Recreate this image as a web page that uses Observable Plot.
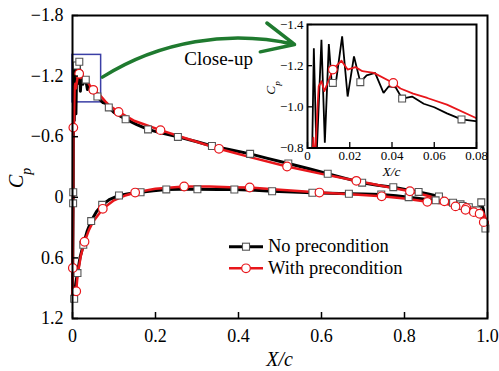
<!DOCTYPE html>
<html><head><meta charset="utf-8">
<script src="https://cdn.jsdelivr.net/npm/d3@7"></script>
<script src="https://cdn.jsdelivr.net/npm/@observablehq/plot@0.6"></script>
<style>
body{margin:0;background:#fff;}
#wrap{position:relative;width:499px;height:371px;font-family:"Liberation Serif","Times New Roman",serif;}
#main{position:absolute;left:0;top:0;}
#inset{position:absolute;left:250px;top:0;}
#legend{position:absolute;left:222px;top:230px;}
</style></head><body>
<div id="wrap"><div id="main"></div><div id="inset"></div><svg id="legend" width="210" height="52"></svg></div>
<script>
// ---------- data ----------
const seriesNames = ["No precondition", "With precondition"];
const seriesColors = ["#000000", "#e8161b"];

// No precondition (black), upper surface (suction side)
const noPreUpperX  = [0, 0.0008, 0.0015, 0.0018, 0.0022, 0.003, 0.0043, 0.0066, 0.0082, 0.0101, 0.0114, 0.0136, 0.0164, 0.019, 0.022, 0.025, 0.028, 0.032, 0.036, 0.0385, 0.0417, 0.0448, 0.0495, 0.055, 0.06, 0.066, 0.0729, 0.0795, 0.0875, 0.1, 0.128, 0.155, 0.182, 0.21, 0.254, 0.3, 0.336, 0.38, 0.428, 0.47, 0.52, 0.57, 0.615, 0.66, 0.698, 0.735, 0.773, 0.834, 0.86, 0.883, 0.917, 0.935, 0.955, 0.967, 0.98, 0.985, 0.99, 0.995, 1.0];
const noPreUpperCp = [1.02, 0.5, 0.06, -0.05, -0.78, -1.285, -0.76, -1.326, -0.826, -1.305, -1.124, -1.13, -1.342, -1.05, -1.245, -1.12, -1.153, -1.165, -1.068, -1.10, -1.095, -1.04, -1.05, -1.015, -0.998, -0.968, -0.939, -0.931, -0.89, -0.84, -0.773, -0.72, -0.672, -0.64, -0.598, -0.55, -0.508, -0.47, -0.43, -0.385, -0.335, -0.282, -0.233, -0.185, -0.145, -0.12, -0.10, -0.053, -0.03, -0.008, 0.054, 0.07, 0.098, 0.13, 0.12, 0.05, 0.12, 0.31, 0.25];
// No precondition, lower surface
const noPreLowerX  = [0, 0.004, 0.008, 0.012, 0.018, 0.026, 0.035, 0.045, 0.058, 0.0715, 0.09, 0.112, 0.135, 0.164, 0.195, 0.226, 0.26, 0.301, 0.35, 0.39, 0.44, 0.481, 0.53, 0.578, 0.62, 0.666, 0.70, 0.744, 0.78, 0.81, 0.85, 0.875, 0.9, 0.92, 0.94, 0.96, 0.975, 0.99, 1.0];
const noPreLowerCp = [1.02, 1.005, 0.85, 0.75, 0.6, 0.47, 0.34, 0.235, 0.14, 0.075, 0.02, -0.018, -0.035, -0.05, -0.065, -0.078, -0.08, -0.079, -0.078, -0.077, -0.07, -0.06, -0.052, -0.045, -0.04, -0.035, -0.032, -0.028, -0.015, -0.001, 0.02, 0.03, 0.048, 0.065, 0.085, 0.105, 0.13, 0.2, 0.3];

// With precondition (red), upper surface
const withPreUpperX  = [0, 0.0008, 0.0015, 0.002, 0.0028, 0.0035, 0.0045, 0.0053, 0.0066, 0.008, 0.012, 0.0161, 0.019, 0.0227, 0.026, 0.0314, 0.0406, 0.044, 0.05, 0.0567, 0.066, 0.0795, 0.09, 0.111, 0.15, 0.212, 0.28, 0.353, 0.43, 0.517, 0.6, 0.684, 0.75, 0.813, 0.86, 0.896, 0.923, 0.949, 0.965, 0.98, 0.99, 1.0];
const withPreUpperCp = [1.0, 0.70, 0.0, -0.69, -0.85, -0.72, -0.95, -1.10, -1.124, -1.076, -1.181, -1.224, -1.181, -1.193, -1.173, -1.165, -1.116, -1.089, -1.064, -1.043, -1.011, -0.947, -0.905, -0.845, -0.755, -0.665, -0.575, -0.48, -0.395, -0.305, -0.232, -0.163, -0.11, -0.06, -0.01, 0.04, 0.075, 0.105, 0.12, 0.135, 0.16, 0.25];
// With precondition, lower surface
const withPreLowerX  = [0, 0.004, 0.009, 0.012, 0.02, 0.029, 0.04, 0.05, 0.073, 0.1, 0.125, 0.151, 0.2, 0.269, 0.33, 0.38, 0.427, 0.5, 0.595, 0.67, 0.745, 0.8, 0.855, 0.9, 0.923, 0.947, 0.967, 0.981, 0.991, 1.0];
const withPreLowerCp = [1.0, 0.97, 0.93, 0.78, 0.58, 0.44, 0.32, 0.24, 0.114, 0.03, -0.015, -0.047, -0.085, -0.107, -0.106, -0.10, -0.097, -0.075, -0.047, -0.03, -0.01, 0.012, 0.045, 0.065, 0.09, 0.124, 0.147, 0.163, 0.246, 0.25];

// Marker positions, main chart
const noPreMarkX  = [0.0018, 0.0015, 0.0101, 0.0164, 0.032, 0.06, 0.0875, 0.128, 0.182, 0.254, 0.336, 0.428, 0.52, 0.615, 0.698, 0.773, 0.834, 0.883, 0.917, 0.935, 0.955, 0.967, 0.985, 0.995,
                     0.004, 0.012, 0.026, 0.045, 0.0715, 0.112, 0.164, 0.226, 0.301, 0.39, 0.481, 0.578, 0.666, 0.744, 0.81, 0.875, 0.94, 0.975];
const noPreMarkCp = [-0.05, 0.06, -1.305, -1.342, -1.165, -0.998, -0.89, -0.773, -0.672, -0.598, -0.508, -0.43, -0.335, -0.233, -0.145, -0.10, -0.053, -0.008, 0.054, 0.07, 0.098, 0.13, 0.05, 0.31,
                     1.005, 0.75, 0.47, 0.235, 0.075, -0.018, -0.05, -0.078, -0.079, -0.077, -0.06, -0.045, -0.035, -0.028, -0.001, 0.03, 0.085, 0.13];
const withPreMarkX  = [0.0008, 0.002, 0.0161, 0.05, 0.111, 0.212, 0.353, 0.517, 0.684, 0.813, 0.896, 0.949,
                       0.009, 0.029, 0.073, 0.151, 0.269, 0.427, 0.595, 0.745, 0.855, 0.923, 0.947, 0.967, 0.981, 0.991];
const withPreMarkCp = [0.70, -0.69, -1.224, -1.064, -0.845, -0.665, -0.48, -0.305, -0.163, -0.06, 0.04, 0.105,
                       0.93, 0.44, 0.114, -0.047, -0.107, -0.097, -0.047, -0.01, 0.045, 0.09, 0.124, 0.147, 0.163, 0.246];

// Marker positions, close-up inset
const insetNoPreMarkX  = [0.012, 0.025, 0.0448, 0.0729];
const insetNoPreMarkCp = [-1.116, -1.12, -1.04, -0.939];
const insetWithPreMarkX  = [0.012, 0.0406];
const insetWithPreMarkCp = [-1.181, -1.116];

// Axes
const xTicks = [0, 0.2, 0.4, 0.6, 0.8, 1.0];
const xTickLabels = ["0", "0.2", "0.4", "0.6", "0.8", "1.0"];
const yTicks = [-1.8, -1.2, -0.6, 0, 0.6, 1.2];
const yTickLabels = ["\u22121.8", "\u22121.2", "\u22120.6", "0", "0.6", "1.2"];
const insetXTicks = [0, 0.02, 0.04, 0.06, 0.08];
const insetXTickLabels = ["0", "0.02", "0.04", "0.06", "0.08"];
const insetYTicks = [-1.4, -1.2, -1.0, -0.8];
const insetYTickLabels = ["\u22121.4", "\u22121.2", "\u22121.0", "\u22120.8"];

// Close-up annotation (data units)
const closeUpBoxX = [0, 0.069];
const closeUpBoxCp = [-1.41, -0.94];
const closeUpArrowFrom = [0.072, -1.19];
const closeUpArrowTo = [0.535, -1.513];
const closeUpLabel = ["Close-up"];
const closeUpLabelAt = [0.352, -1.374];

// ---------- build ----------
const pts = (xs, cps, s) => xs.map((x, i) => ({x, cp: cps[i], s}));
const noPre = [...pts(noPreUpperX, noPreUpperCp, "u"), ...pts(noPreLowerX, noPreLowerCp, "l")];
const withPre = [...pts(withPreUpperX, withPreUpperCp, "u"), ...pts(withPreLowerX, withPreLowerCp, "l")];
const noPreMarks = pts(noPreMarkX, noPreMarkCp);
const withPreMarks = pts(withPreMarkX, withPreMarkCp);
const insetNoPreMarks = pts(insetNoPreMarkX, insetNoPreMarkCp);
const insetWithPreMarks = pts(insetWithPreMarkX, insetWithPreMarkCp);
const fmt = (ticks, labels) => d => labels[ticks.findIndex(t => Math.abs(t - d) < 1e-9)];

const FONT = "'Liberation Serif', 'Times New Roman', serif";
const BLACK = seriesColors[0], RED = seriesColors[1];

const main = Plot.plot({
  width: 499, height: 371,
  marginLeft: 72, marginRight: 12, marginTop: 15, marginBottom: 53,
  x: {domain: [0, 1]},
  y: {domain: [1.2, -1.8]},
  style: {fontFamily: FONT, fontSize: "18px", color: "black", background: "white"},
  marks: [
    Plot.rect([{x1: closeUpBoxX[0], x2: closeUpBoxX[1], y1: closeUpBoxCp[0], y2: closeUpBoxCp[1]}],
      {x1: "x1", x2: "x2", y1: "y1", y2: "y2", fill: "none", stroke: "#3b3fa6", strokeWidth: 1.5}),
    Plot.line(noPre, {x: "x", y: "cp", z: "s", stroke: BLACK, strokeWidth: 3, strokeLinejoin: "round"}),
    Plot.line(withPre, {x: "x", y: "cp", z: "s", stroke: RED, strokeWidth: 2.5, strokeLinejoin: "round"}),
    Plot.dot(noPreMarks, {x: "x", y: "cp", symbol: "square", r: 3.9, fill: "white", stroke: "#555", strokeWidth: 1.1}),
    Plot.dot(withPreMarks, {x: "x", y: "cp", r: 4.3, fill: "white", stroke: RED, strokeWidth: 1.2}),
    Plot.arrow([{x1: closeUpArrowFrom[0], y1: closeUpArrowFrom[1], x2: closeUpArrowTo[0], y2: closeUpArrowTo[1]}],
      {x1: "x1", y1: "y1", x2: "x2", y2: "y2", bend: true, stroke: "#1f7a2f", strokeWidth: 3.5, headLength: 15, headAngle: 50}),
    Plot.text(closeUpLabel, {x: () => closeUpLabelAt[0], y: () => closeUpLabelAt[1], text: d => d, fontSize: 19, fill: "black", fontFamily: FONT}),
    Plot.tickY(yTicks, {y: d => d, insetRight: 409, stroke: "black", strokeWidth: 1.5}),
    Plot.tickX(xTicks, {x: d => d, insetTop: 297, stroke: "black", strokeWidth: 1.5}),
    Plot.axisX({ticks: xTicks, tickFormat: fmt(xTicks, xTickLabels), tickSize: 0, tickPadding: 11, label: null, fontFamily: FONT}),
    Plot.axisY({ticks: yTicks, tickFormat: fmt(yTicks, yTickLabels), tickSize: 0, tickPadding: 9, label: null, fontFamily: FONT}),
    Plot.frame({stroke: "black", strokeWidth: 2})
  ]
});
document.getElementById("main").appendChild(main);

const inset = Plot.plot({
  width: 240, height: 185,
  marginLeft: 57, marginRight: 14, marginTop: 24, marginBottom: 37.5,
  x: {domain: [0, 0.08]},
  y: {domain: [-0.8, -1.4]},
  style: {fontFamily: FONT, fontSize: "13px", color: "black", background: "transparent", overflow: "visible"},
  marks: [
    Plot.frame({fill: "white"}),
    Plot.line(noPre, {x: "x", y: "cp", z: "s", stroke: BLACK, strokeWidth: 1.8, clip: true, strokeLinejoin: "miter"}),
    Plot.line(withPre, {x: "x", y: "cp", z: "s", stroke: RED, strokeWidth: 1.8, clip: true}),
    Plot.dot(insetNoPreMarks, {x: "x", y: "cp", symbol: "square", r: 3.9, fill: "white", stroke: "#555", strokeWidth: 1.1}),
    Plot.dot(insetWithPreMarks, {x: "x", y: "cp", r: 4.3, fill: "white", stroke: RED, strokeWidth: 1.2}),
    Plot.tickY(insetYTicks, {y: d => d, insetRight: 164, stroke: "black", strokeWidth: 1.3}),
    Plot.tickX(insetXTicks, {x: d => d, insetTop: 118, stroke: "black", strokeWidth: 1.3}),
    Plot.axisX({ticks: insetXTicks, tickFormat: fmt(insetXTicks, insetXTickLabels), tickSize: 0, tickPadding: 2.5, label: null, fontFamily: FONT}),
    Plot.axisY({ticks: insetYTicks, tickFormat: fmt(insetYTicks, insetYTickLabels), tickSize: 0, tickPadding: 4, label: null, fontFamily: FONT}),
    Plot.frame({stroke: "black", strokeWidth: 2})
  ]
});
document.getElementById("inset").appendChild(inset);

// axis titles
function cpLabel(svg, x, y, size) {
  const t = d3.select(svg).append("text")
    .attr("transform", `translate(${x},${y}) rotate(-90)`)
    .attr("text-anchor", "middle").style("font-family", FONT).attr("font-style", "italic")
    .attr("font-size", size).attr("fill", "black");
  t.append("tspan").text("C");
  t.append("tspan").attr("font-size", size * 0.68).attr("dy", size * 0.38).text("p");
}
function xcLabel(svg, x, y, size) {
  d3.select(svg).append("text").attr("x", x).attr("y", y)
    .attr("text-anchor", "middle").style("font-family", FONT).attr("font-style", "italic")
    .attr("font-size", size).attr("fill", "black").text("X/c");
}
cpLabel(main, 23, 178, 20);
xcLabel(main, 279.5, 366, 20);
cpLabel(inset, 25, 88, 13.5);
xcLabel(inset, 141.5, 176, 13.5);

// legend
const lg = d3.select("#legend");
seriesNames.forEach((name, i) => {
  const cy = 16.7 + i * 21.6;
  lg.append("line").attr("x1", 7).attr("x2", 41).attr("y1", cy).attr("y2", cy)
    .attr("stroke", seriesColors[i]).attr("stroke-width", i === 0 ? 3 : 2.5);
  if (i === 0) lg.append("rect").attr("x", 20.5).attr("y", cy - 3.5).attr("width", 7).attr("height", 7)
    .attr("fill", "white").attr("stroke", "#555").attr("stroke-width", 1.1);
  else lg.append("circle").attr("cx", 24).attr("cy", cy).attr("r", 4.3)
    .attr("fill", "white").attr("stroke", RED).attr("stroke-width", 1.2);
  lg.append("text").attr("x", 46).attr("y", cy + 5.5).style("font-family", FONT)
    .attr("font-size", 18.5).attr("fill", "black").text(name);
});
</script>
</body></html>
